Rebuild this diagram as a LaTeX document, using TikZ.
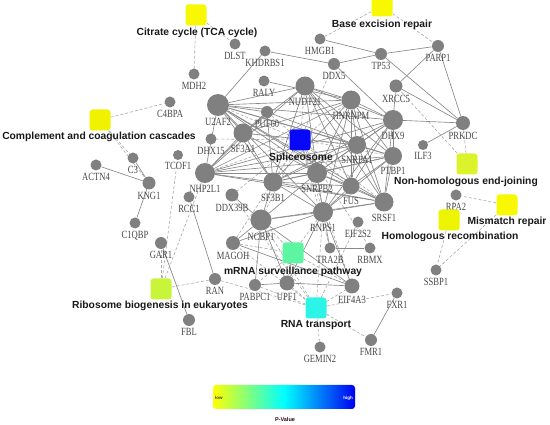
\documentclass[tikz,border=0pt]{standalone}
\usepackage{fontspec}
\newfontfamily\genefont[FakeStretch=0.78]{Liberation Serif}
\newfontfamily\pwfont{Liberation Sans}
\pgfdeclarelayer{bg}
\pgfsetlayers{bg,main}
\definecolor{genegray}{HTML}{808080}
\definecolor{edgegray}{HTML}{888888}
\definecolor{dashgray}{HTML}{A8A8A8}
\definecolor{cYel}{HTML}{F8F800}
\definecolor{cYel2}{HTML}{F0F200}
\definecolor{cBlue}{HTML}{0808F8}
\definecolor{cNHEJ}{HTML}{DCF22A}
\definecolor{cHR}{HTML}{ECF400}
\definecolor{cMint}{HTML}{5CF5A2}
\definecolor{cRibo}{HTML}{C8F43A}
\definecolor{cCyan}{HTML}{2CF4E6}
\tikzset{
  gene/.style={circle, fill=genegray, inner sep=0pt, minimum size=#1},
  glab/.style={font=\genefont\fontsize{11}{11}\selectfont, text=black!72, inner sep=0.5pt},
  pwbox/.style={rounded corners=3pt, fill=#1, minimum size=21pt, inner sep=0pt},
  pwlab/.style={font=\pwfont\bfseries\fontsize{10.3}{11}\selectfont, text=black!90, inner sep=0pt},
  sol/.style={draw=edgegray, line width=0.65pt},
  dsh/.style={draw=dashgray, line width=0.6pt, dash pattern=on 3pt off 2pt},
  every label/.style={label distance=1.5pt}
}
\newcommand\gn[5]{\node[gene=#4pt, label={[glab]below:#5}] (#1) at (#2,#3) {};}
\begin{document}
\begin{tikzpicture}[x=1pt,y=-1pt]
\useasboundingbox (0,0) rectangle (550,425);
% gene nodes
\gn{DLST}{235}{44}{11}{DLST}
\gn{KHDRBS1}{265}{51}{11}{KHDRBS1}
\gn{MDH2}{194}{74}{11}{MDH2}
\gn{RALY}{264}{81}{11}{RALY}
\gn{C4BPA}{170}{102}{11}{C4BPA}
\gn{U2AF2}{218}{105}{22}{U2AF2}
\gn{PUF60}{267}{112}{12}{PUF60}
\gn{NUDT21}{305}{86}{19}{NUDT21}
\gn{DDX5}{334}{64}{12}{DDX5}
\gn{HMGB1}{320}{39}{11}{HMGB1}
\gn{TP53}{381}{54}{12}{TP53}
\gn{PARP1}{438}{46}{12}{PARP1}
\gn{XRCC5}{396}{86}{13}{XRCC5}
\gn{HNRNPM}{351}{100}{19}{HNRNPM}
\gn{DHX9}{393}{120}{20}{DHX9}
\gn{PRKDC}{463}{123}{14}{PRKDC}
\gn{DHX15}{211}{139}{11}{DHX15}
\gn{SF3A1}{243}{133}{19}{SF3A1}
\gn{SNRPA1}{357}{145}{18}{SNRPA1}
\gn{PTBP1}{393}{156}{18}{PTBP1}
\gn{ILF3}{423}{145}{10}{ILF3}
\gn{SNRPB2}{317}{173}{20}{SNRPB2}
\gn{FUS}{351}{186}{17}{FUS}
\gn{SRSF1}{384}{202}{19}{SRSF1}
\gn{RPA2}{456}{195}{11}{RPA2}
\gn{RNPS1}{323}{212}{20}{RNPS1}
\gn{EIF2S2}{358}{222}{11}{EIF2S2}
\gn{TRA2B}{330}{248}{11}{TRA2B}
\gn{RBMX}{370}{248}{11}{RBMX}
\gn{SF3B1}{273}{182}{19}{SF3B1}
\gn{NHP2L1}{205}{173}{20}{NHP2L1}
\gn{DDX39B}{232}{195}{13}{DDX39B}
\gn{RCC1}{189}{197}{11}{RCC1}
\gn{NCBP1}{261}{220}{21}{NCBP1}
\gn{MAGOH}{233}{243}{14}{MAGOH}
\gn{TCOF1}{178}{155}{10}{TCOF1}
\gn{ACTN4}{96}{165}{11}{ACTN4}
\gn{C3}{133}{158}{11}{C3}
\gn{KNG1}{149}{183}{13}{KNG1}
\gn{C1QBP}{135}{223}{11}{C1QBP}
\gn{GAR1}{161}{243}{12}{GAR1}
\gn{RAN}{215}{279}{12}{RAN}
\gn{PABPC1}{255}{285}{12}{PABPC1}
\gn{UPF1}{287}{283}{15}{UPF1}
\gn{EIF4A3}{352}{286}{15}{EIF4A3}
\gn{FXR1}{397}{293}{11}{FXR1}
\gn{FMR1}{371}{340}{12}{FMR1}
\gn{GEMIN2}{320}{347}{11}{GEMIN2}
\gn{FBL}{189}{320}{12}{FBL}
\gn{SSBP1}{436}{270}{11}{SSBP1}
% pathway nodes
\node[pwbox=cYel] (Cit) at (196,15) {};
\node[pwbox=cYel] (Base) at (382,6) {};
\node[pwbox=cYel2] (Comp) at (100,120) {};
\node[pwbox=cBlue] (Spl) at (300,140) {};
\node[pwbox=cNHEJ] (NHEJ) at (467,164) {};
\node[pwbox=cYel] (MMR) at (507,205) {};
\node[pwbox=cHR] (HR) at (449,220) {};
\node[pwbox=cMint] (mRNA) at (293,253) {};
\node[pwbox=cRibo] (Ribo) at (161,289) {};
\node[pwbox=cCyan] (RNAT) at (316,308) {};
% pathway labels
\node[pwlab] (lCit) at (197,33) {Citrate cycle (TCA cycle)};
\node[pwlab] (lBase) at (382,25) {Base excision repair};
\node[pwlab] (lComp) at (99,137) {Complement and coagulation cascades};
\node[pwlab] (lSpl) at (301,158) {Spliceosome};
\node[pwlab] (lNHEJ) at (466,182) {Non-homologous end-joining};
\node[pwlab] (lMMR) at (507,222) {Mismatch repair};
\node[pwlab] (lHR) at (450,237) {Homologous recombination};
\node[pwlab] (lmRNA) at (293,272) {mRNA surveillance pathway};
\node[pwlab] (lRibo) at (160,306) {Ribosome biogenesis in eukaryotes};
\node[pwlab] (lRNAT) at (316,325) {RNA transport};
% edges
\begin{pgfonlayer}{bg}
\foreach \a/\b in {Cit/DLST, Cit/MDH2, Base/HMGB1, Base/PARP1, Comp/C4BPA, Comp/C3, Comp/KNG1,
  Spl/U2AF2, Spl/PUF60, Spl/SF3A1, Spl/DHX15, Spl/NHP2L1, Spl/SF3B1, Spl/SNRPB2, Spl/SNRPA1, Spl/SRSF1,
  Spl/RNPS1, Spl/NCBP1, Spl/HNRNPM, Spl/DDX5, Spl/NUDT21, Spl/DDX39B, Spl/TRA2B, Spl/MAGOH, Spl/EIF4A3,
  Spl/PTBP1, Spl/FUS, Spl/RBMX,
  NHEJ/PRKDC, NHEJ/XRCC5, MMR/RPA2, MMR/SSBP1, HR/RPA2, HR/SSBP1,
  mRNA/NCBP1, mRNA/MAGOH, mRNA/RNPS1, mRNA/UPF1, mRNA/PABPC1, mRNA/EIF4A3,
  RNAT/EIF4A3, RNAT/UPF1, RNAT/NCBP1, RNAT/MAGOH, RNAT/RNPS1, RNAT/FXR1, RNAT/FMR1, RNAT/GEMIN2,
  RNAT/RAN, RNAT/PABPC1, RNAT/EIF2S2, RNAT/DDX39B,
  Ribo/GAR1, Ribo/RAN, Ribo/NHP2L1, Ribo/TCOF1}
  \draw[dsh] (\a) -- (\b);
\foreach \a/\b in {U2AF2/KHDRBS1, U2AF2/NUDT21, U2AF2/HNRNPM, U2AF2/PUF60, U2AF2/SF3A1, U2AF2/SNRPA1,
  U2AF2/DHX9, U2AF2/SNRPB2, U2AF2/SF3B1, U2AF2/PTBP1, U2AF2/SRSF1, U2AF2/FUS, U2AF2/RNPS1,
  NUDT21/HNRNPM, NUDT21/DHX9, NUDT21/SNRPA1, NUDT21/SNRPB2, NUDT21/SF3B1, NUDT21/SF3A1, NUDT21/PTBP1,
  NUDT21/SRSF1, NUDT21/FUS, NUDT21/NHP2L1,
  HNRNPM/DHX9, HNRNPM/SNRPA1, HNRNPM/PTBP1, HNRNPM/SRSF1, HNRNPM/SNRPB2, HNRNPM/SF3B1, HNRNPM/SF3A1,
  HNRNPM/FUS, HNRNPM/RNPS1, HNRNPM/NHP2L1, HNRNPM/RALY,
  DHX9/SNRPA1, DHX9/PTBP1, DHX9/SRSF1, DHX9/FUS, DHX9/SNRPB2, DHX9/SF3B1, DHX9/DDX5, DHX9/XRCC5,
  DHX9/PRKDC, DHX9/NHP2L1, DHX9/RNPS1,
  SNRPA1/PTBP1, SNRPA1/SNRPB2, SNRPA1/SF3B1, SNRPA1/SRSF1, SNRPA1/FUS, SNRPA1/NHP2L1, SNRPA1/SF3A1, SNRPA1/PUF60,
  PTBP1/SRSF1, PTBP1/FUS, PTBP1/SNRPB2, PTBP1/SF3B1, PTBP1/RNPS1, PTBP1/NHP2L1,
  SNRPB2/SF3B1, SNRPB2/FUS, SNRPB2/SRSF1, SNRPB2/RNPS1, SNRPB2/SF3A1, SNRPB2/NHP2L1, SNRPB2/NCBP1,
  FUS/SRSF1, FUS/RNPS1, FUS/SF3B1,
  SRSF1/RNPS1, SRSF1/SF3B1, SRSF1/NCBP1, SRSF1/NHP2L1,
  RNPS1/SF3B1, RNPS1/NCBP1, RNPS1/EIF4A3, RNPS1/UPF1, RNPS1/MAGOH, RNPS1/TRA2B,
  SF3B1/SF3A1, SF3B1/NHP2L1, SF3B1/NCBP1, SF3B1/PUF60,
  NHP2L1/SF3A1, NHP2L1/PUF60, NHP2L1/U2AF2, SF3A1/PUF60,
  NCBP1/UPF1, NCBP1/EIF4A3, NCBP1/MAGOH, NCBP1/DDX39B, NCBP1/PABPC1,
  UPF1/PABPC1, UPF1/EIF4A3, EIF4A3/MAGOH,
  TRA2B/RBMX, FXR1/FMR1, RCC1/RAN, GAR1/FBL, KNG1/ACTN4, KNG1/C1QBP, KNG1/C3,
  KHDRBS1/DDX5, HMGB1/TP53, DDX5/TP53, TP53/PARP1, TP53/PRKDC, PARP1/XRCC5, PARP1/PRKDC,
  XRCC5/PRKDC, PRKDC/ILF3}
  \draw[sol] (\a) -- (\b);
\end{pgfonlayer}
% colour legend
\node[minimum width=142pt, minimum height=24pt, inner sep=0pt, rounded corners=3pt,
  left color=yellow, right color=blue!95!black, middle color=cyan] (bar) at (284,397) {};
\node[font=\pwfont\bfseries\fontsize{4.5}{5}\selectfont, text=black!70!olive, inner sep=0pt, anchor=west] (low) at (215,398) {low};
\node[font=\pwfont\bfseries\fontsize{4.5}{5}\selectfont, text=white, inner sep=0pt, anchor=east] (high) at (353,398) {high};
\node[font=\pwfont\bfseries\fontsize{5.5}{6}\selectfont, text=black!75!purple, inner sep=0pt] (pval) at (285,420) {P-Value};
\end{tikzpicture}
\end{document}
